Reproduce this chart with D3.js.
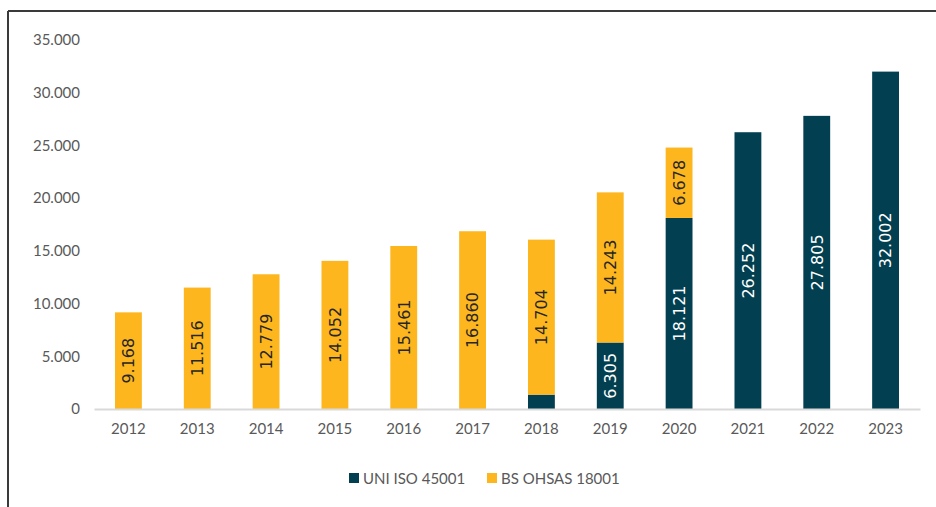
<!DOCTYPE html>
<html>
<head>
<meta charset="utf-8">
<script src="https://cdn.jsdelivr.net/npm/d3@7"></script>
<style>
  body { margin: 0; background: #fff; }
  svg { display: block; }
</style>
</head>
<body>
<div id="chart"></div>
<script>
// Data
const years = ["2012", "2013", "2014", "2015", "2016", "2017", "2018", "2019", "2020", "2021", "2022", "2023"];
const uniIso45001 = [0, 0, 0, 0, 0, 0, 1360, 6305, 18121, 26252, 27805, 32002];
const bsOhsas18001 = [9168, 11516, 12779, 14052, 15461, 16860, 14704, 14243, 6678, 0, 0, 0];
const yTicks = [0, 5000, 10000, 15000, 20000, 25000, 30000, 35000];
const seriesNames = ["UNI ISO 45001", "BS OHSAS 18001"];
const colours = ["#023f50", "#fdb61e"];

const W = 936, H = 507;
const margin = { top: 40, right: 16, bottom: 98, left: 94 };
const width = W - margin.left - margin.right;
const height = H - margin.top - margin.bottom;

const fmt = d3.formatLocale({ decimal: ",", thousands: ".", grouping: [3], currency: ["", ""] }).format(",d");

const svg = d3.select("#chart").append("svg")
    .attr("width", W)
    .attr("height", H);

// Frame lines (top and left)
svg.append("line").attr("x1", 8).attr("x2", W).attr("y1", 11).attr("y2", 11)
    .attr("stroke", "#3a3a3a").attr("stroke-width", 2);
svg.append("line").attr("x1", 8).attr("x2", 8).attr("y1", 11).attr("y2", H)
    .attr("stroke", "#3a3a3a").attr("stroke-width", 2);

const g = svg.append("g")
    .attr("transform", `translate(${margin.left}, ${margin.top})`);

// Stack the two series
const table = years.map((y, i) => ({ year: y, uni: uniIso45001[i], bs: bsOhsas18001[i] }));
const stack = d3.stack().keys(["uni", "bs"])(table);

const x = d3.scaleBand()
    .domain(years)
    .range([0, width])
    .paddingInner(0.61)
    .paddingOuter(0.305);

const y = d3.scaleLinear()
    .domain([0, 35000])
    .range([height, 0]);

// Y axis labels
const yAxis = g.append("g")
    .attr("class", "axis")
    .call(d3.axisLeft(y).tickValues(yTicks).tickFormat(fmt).tickSize(0).tickPadding(14));
yAxis.select(".domain").remove();
yAxis.selectAll("text")
    .attr("fill", "#595959")
    .style("font-family", "Lato, sans-serif")
    .style("font-size", "15px");

// Bars
const layers = g.selectAll(".layer")
    .data(stack)
    .enter().append("g")
    .attr("class", "layer")
    .attr("fill", (d, i) => colours[i]);

layers.selectAll("rect")
    .data(d => d)
    .enter().append("rect")
    .attr("x", d => x(d.data.year))
    .attr("y", d => y(d[1]))
    .attr("width", x.bandwidth())
    .attr("height", d => y(d[0]) - y(d[1]));

// Value labels inside segments (skip tiny segments)
stack.forEach((layer, li) => {
    g.selectAll(`.lbl${li}`)
        .data(layer.filter(d => d[1] - d[0] > 3000))
        .enter().append("text")
        .attr("class", `lbl${li}`)
        .attr("transform", d => `translate(${x(d.data.year) + x.bandwidth() / 2}, ${y((d[0] + d[1]) / 2)}) rotate(-90)`)
        .attr("text-anchor", "middle")
        .attr("dy", "0.36em")
        .attr("fill", li === 0 ? "#ffffff" : "#262626")
        .style("font-family", "'DejaVu Sans', sans-serif")
        .style("font-size", "16px")
        .text(d => fmt(d[1] - d[0]));
});

// X axis
const xAxis = g.append("g")
    .attr("class", "axis")
    .attr("transform", `translate(0, ${height})`)
    .call(d3.axisBottom(x).tickSize(0).tickPadding(14));
xAxis.select(".domain").attr("stroke", "#d9d9d9").attr("stroke-width", 2);
xAxis.selectAll("text")
    .attr("fill", "#595959")
    .style("font-family", "Lato, sans-serif")
    .style("font-size", "15px");

// Legend
const legend = svg.append("g").attr("transform", "translate(349, 479)");
const legendX = [0, 138];
seriesNames.forEach((name, i) => {
    const item = legend.append("g").attr("transform", `translate(${legendX[i]}, 0)`);
    item.append("rect").attr("x", 0).attr("y", -6).attr("width", 10).attr("height", 10).attr("fill", colours[i]);
    item.append("text").attr("x", 14).attr("y", 0).attr("dy", "0.35em")
        .attr("fill", "#595959")
        .style("font-family", "Lato, sans-serif")
        .style("font-size", "15px")
        .text(name);
});
</script>
</body>
</html>
